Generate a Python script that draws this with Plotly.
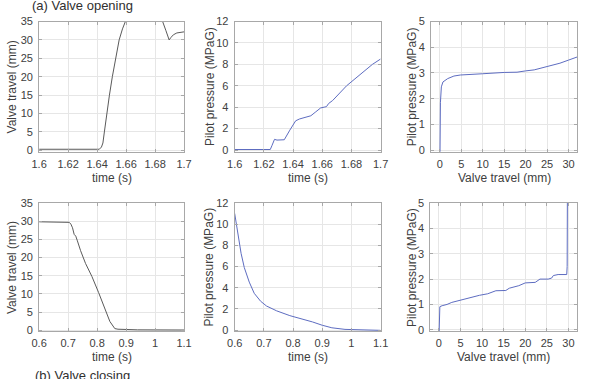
import plotly.graph_objects as go

W, H = 589, 379

# (a) Valve opening
open_t = [1.6, 1.62, 1.64, 1.6415, 1.643, 1.644, 1.645, 1.6466, 1.6485, 1.6505, 1.6528, 1.6552, 1.6575, 1.6593,
          1.663, 1.67, 1.677, 1.6825, 1.6852, 1.6875, 1.6897, 1.691, 1.6926, 1.695, 1.7]
open_travel = [0.3, 0.3, 0.3, 0.3, 0.9, 2.0, 5.0, 10.0, 15.0, 20.0, 25.0, 30.0, 33.0, 35.0,
               38.5, 40.0, 39.5, 37.0, 35.0, 32.5, 30.0, 30.7, 31.4, 31.9, 32.2]

open_pt = [1.6, 1.61, 1.62, 1.6244, 1.6255, 1.6273, 1.629, 1.634, 1.6378, 1.6418, 1.6444, 1.6478, 1.6522, 1.6556,
           1.6589, 1.6618, 1.6629, 1.6644, 1.6671, 1.6767, 1.6822, 1.6944, 1.7]
open_pres = [0.05, 0.03, 0.02, 0.05, 0.4, 1.0, 0.93, 0.96, 1.86, 2.73, 2.9, 3.03, 3.2, 3.57,
             3.93, 4.02, 4.05, 4.35, 4.62, 6.0, 6.63, 8.0, 8.5]

open_xy_travel = [0.05, 0.06, 0.08, 0.15, 0.37, 0.74, 1.84, 3.3, 4.8, 7.0, 10.0, 15.0, 18.0, 20.0, 22.0, 25.0, 28.0, 30.0, 32.0]
open_xy_pres = [-0.2, 1.0, 1.6, 1.84, 2.46, 2.65, 2.78, 2.88, 2.92, 2.93, 2.97, 3.02, 3.03, 3.08, 3.12, 3.25, 3.38, 3.5, 3.62]

# (b) Valve closing
close_t = [0.6, 0.704, 0.7096, 0.7152, 0.7208, 0.7264, 0.732, 0.7376, 0.743, 0.76, 0.782, 0.805, 0.827, 0.844,
           0.861, 0.872, 0.939, 1.1]
close_travel = [29.85, 29.7, 29.2, 28.2, 26.4, 25.9, 24.6, 22.8, 21.9, 18.4, 14.8, 10.4, 5.95, 2.4,
                0.44, 0.27, 0.1, 0.05]

close_pt = [0.6, 0.611, 0.622, 0.633, 0.65, 0.667, 0.689, 0.709, 0.714, 0.744, 0.789, 0.844, 0.867, 0.9,
            0.933, 0.978, 1.011, 1.1]
close_pres = [11.03, 9.06, 7.25, 5.9, 4.53, 3.47, 2.72, 2.27, 2.2, 1.81, 1.36, 0.97, 0.76, 0.45,
              0.21, 0.06, 0.03, -0.03]

close_xy_travel = [0.05, 0.1, 0.23, 0.76, 1.9, 3.0, 4.9, 7.2, 9.4, 11.3, 13.2, 15.5, 16.3, 18.5, 20.0, 22.3, 23.4,
                   25.3, 26.1, 26.5, 27.6, 29.6, 29.7, 29.85]
close_xy_pres = [-0.2, 0.6, 0.91, 0.95, 1.0, 1.08, 1.17, 1.26, 1.36, 1.42, 1.54, 1.55, 1.64, 1.74, 1.85, 1.87, 2.0,
                 2.0, 2.04, 2.14, 2.18, 2.18, 2.5, 11.0]

time_ticks_a = [1.6, 1.62, 1.64, 1.66, 1.68, 1.7]
time_ticks_b = [0.6, 0.7, 0.8, 0.9, 1.0, 1.1]
travel_ticks = [0, 5, 10, 15, 20, 25, 30]
travel_yticks = [0, 5, 10, 15, 20, 25, 30, 35]
pres_ticks_12 = [0, 2, 4, 6, 8, 10, 12]
pres_ticks_5 = [0, 1, 2, 3, 4, 5]

GRAY = "#5a5a5a"
BLUE = "#5d6cc0"

panels = [
    # x, y, color, xrange, yrange, xticks, yticks, box px (x0,x1,ytop,ybot)
    (open_t, open_travel, GRAY, [1.6, 1.7], [-0.35, 35], time_ticks_a, travel_yticks, (32, 181, 16, 150)),
    (open_pt, open_pres, BLUE, [1.6, 1.7], [-0.15, 12], time_ticks_a, pres_ticks_12, (233, 383, 16, 150)),
    (open_xy_travel, open_xy_pres, BLUE, [-2, 32], [-0.06, 5], travel_ticks, pres_ticks_5, (435, 585, 16, 150)),
    (close_t, close_travel, GRAY, [0.6, 1.1], [-0.3, 35], time_ticks_b, travel_yticks, (32, 181, 203, 335)),
    (close_pt, close_pres, BLUE, [0.6, 1.1], [-0.12, 12], time_ticks_b, pres_ticks_12, (233, 383, 203, 335)),
    (close_xy_travel, close_xy_pres, BLUE, [-2, 32], [-0.06, 5], travel_ticks, pres_ticks_5, (434, 585, 203, 335)),
]

xtitles = ["time (s)", "time (s)", "Valve travel (mm)", "time (s)", "time (s)", "Valve travel (mm)"]
ytitles = ["Valve travel (mm)", "Pilot pressure (MPaG)", "Pilot pressure (MPaG)",
           "Valve travel (mm)", "Pilot pressure (MPaG)", "Pilot pressure (MPaG)"]
ytitle_x = [4, 207, 415, 4, 207, 415]

fig = go.Figure()
layout = dict(width=W, height=H, margin=dict(l=0, r=0, t=0, b=0), paper_bgcolor="white",
              plot_bgcolor="white", showlegend=False,
              font=dict(family="Liberation Sans, Arial, sans-serif", color="#404040"))
annotations = []

def fmt(v):
    return "%g" % v

for i, (xs, ys, col, xr, yr, xt, yt, box) in enumerate(panels):
    n = "" if i == 0 else str(i + 1)
    x0, x1, yt0, yb0 = box
    fig.add_trace(go.Scatter(x=xs, y=ys, mode="lines", line=dict(color=col, width=1),
                             xaxis="x" + n, yaxis="y" + n, hoverinfo="skip"))
    common = dict(showline=True, mirror="ticks", linecolor="#a8a8a8", linewidth=1,
                  showgrid=True, gridcolor="#e6e6e6", gridwidth=1, zeroline=False,
                  ticks="inside", ticklen=3, tickcolor="#a8a8a8",
                  tickfont=dict(size=11, color="#404040"))
    layout["xaxis" + n] = dict(common, domain=[x0 / W, x1 / W], range=xr, anchor="y" + n,
                               tickmode="array", tickvals=xt, ticktext=[fmt(v) for v in xt],
                               ticklabelstandoff=2)
    layout["yaxis" + n] = dict(common, domain=[1 - yb0 / H, 1 - yt0 / H], range=yr, anchor="x" + n,
                               tickmode="array", tickvals=yt, ticktext=[fmt(v) for v in yt],
                               ticklabelstandoff=3)
    annotations.append(dict(text=xtitles[i], x=(x0 + x1) / 2 / W, y=1 - (yb0 + 27) / H,
                            xref="paper", yref="paper", showarrow=False,
                            font=dict(size=12, color="#404040"), xanchor="center", yanchor="middle"))
    annotations.append(dict(text=ytitles[i], x=ytitle_x[i] / W, y=1 - (yt0 + yb0) / 2 / H,
                            xref="paper", yref="paper", showarrow=False, textangle=-90,
                            font=dict(size=12, color="#404040"), xanchor="center", yanchor="middle"))

annotations.append(dict(text="(a) Valve opening", x=77 / W, y=1 - 9 / H, xref="paper", yref="paper",
                        showarrow=False, font=dict(size=13, color="#303030"),
                        xanchor="center", yanchor="bottom"))
annotations.append(dict(text="(b) Valve closing", x=77 / W, y=1 - 371 / H, xref="paper", yref="paper",
                        showarrow=False, font=dict(size=13, color="#303030"),
                        xanchor="center", yanchor="top"))
layout["annotations"] = annotations
fig.update_layout(**layout)
fig.write_html("out.html")
